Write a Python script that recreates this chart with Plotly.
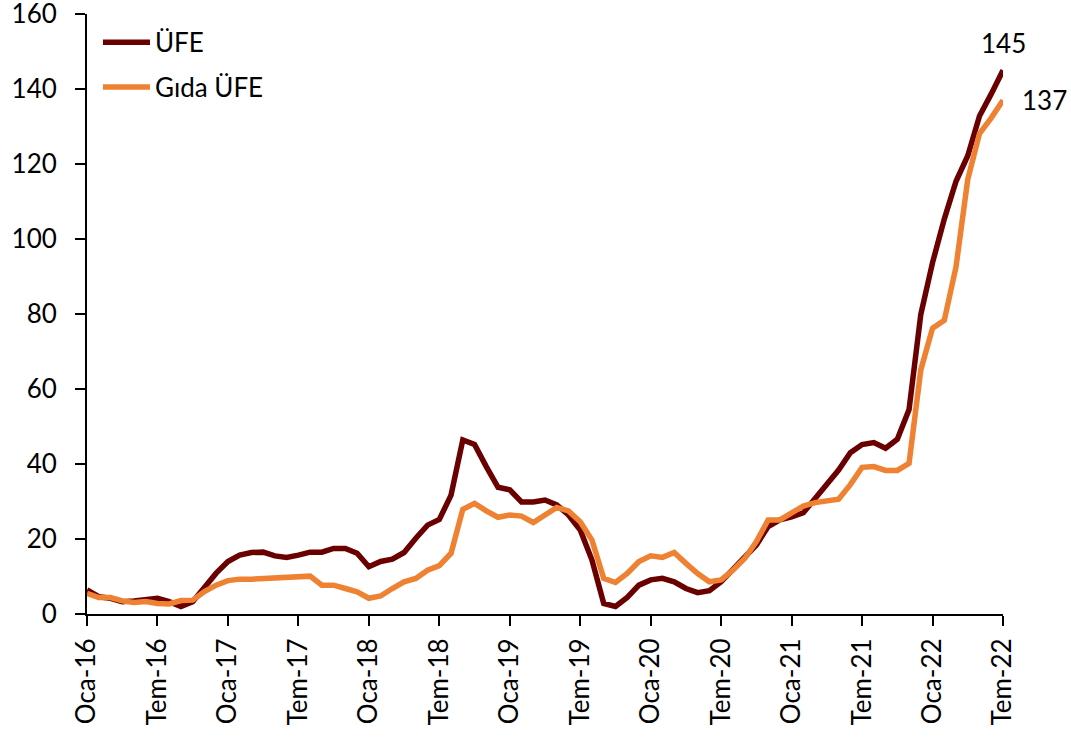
import plotly.graph_objects as go

months_tr = ["Oca", "Şub", "Mar", "Nis", "May", "Haz", "Tem", "Ağu", "Eyl", "Eki", "Kas", "Ara"]
years = [16, 17, 18, 19, 20, 21, 22]
categories = [f"{m}-{y}" for y in years for m in months_tr][:79]  # Oca-16 .. Tem-22

ufe = [6.4, 4.6, 4.2, 3.3, 3.5, 3.7, 4.2, 3.3, 2.0, 3.3,
       7.3, 10.9, 14.0, 15.7, 16.4, 16.5, 15.5, 15.1, 15.7, 16.5,
       16.5, 17.5, 17.5, 16.2, 12.6, 14.0, 14.6, 16.4, 20.2, 23.7,
       25.2, 31.7, 46.4, 45.2, 39.3, 33.8, 33.1, 29.9, 29.9, 30.4,
       29.1, 26.4, 22.4, 14.4, 2.8, 2.0, 4.4, 7.7, 9.1, 9.5,
       8.6, 6.8, 5.7, 6.2, 8.6, 11.7, 14.8, 18.4, 23.3, 25.1,
       25.9, 27.0, 30.8, 34.8, 38.4, 43.0, 45.2, 45.7, 44.2, 46.6,
       54.5, 79.9, 93.7, 105.3, 115.4, 122.2, 132.8, 138.7, 145.0]

gida_ufe = [5.5, 4.4, 4.4, 3.5, 3.1, 3.3, 2.8, 2.7, 3.6, 3.7,
            6.0, 7.7, 8.9, 9.3, 9.3, 9.5, 9.6, 9.9, 10.2, 10.1,
            7.7, 7.7, 6.8, 5.9, 4.2, 4.8, 6.8, 8.6, 9.5, 11.7,
            12.9, 16.2, 27.9, 29.5, 27.5, 25.8, 26.4, 26.1, 24.4, 26.4,
            28.4, 27.5, 24.6, 19.7, 9.5, 8.4, 10.8, 14.0, 15.5, 15.1,
            16.4, 13.5, 10.8, 8.6, 9.1, 11.7, 14.8, 19.3, 25.1, 25.1,
            26.8, 28.8, 29.7, 30.2, 30.6, 34.5, 39.1, 39.3, 38.3, 38.3,
            40.2, 65.1, 76.2, 78.3, 92.6, 115.9, 128.1, 132.3, 137.0]

tick_labels = categories[::6]
y_ticks = list(range(0, 161, 20))

FONT = "Lato"
FS = 26
DARK = "#6A0000"
ORANGE = "#EF8133"

fig = go.Figure()
fig.add_trace(go.Scatter(x=categories, y=ufe, mode="lines", name="ÜFE",
                         line=dict(color=DARK, width=5.5), legendgroup="a"))
fig.add_trace(go.Scatter(x=categories, y=gida_ufe, mode="lines", name="Gıda ÜFE",
                         line=dict(color=ORANGE, width=5.5), legendgroup="b"))

fig.add_annotation(x=categories[-1], y=ufe[-1], text=f"{ufe[-1]:.0f}", showarrow=False,
                   yshift=27, font=dict(family=FONT, size=FS, color="black"))
fig.add_annotation(x=categories[-1], y=gida_ufe[-1], text=f"{gida_ufe[-1]:.0f}", showarrow=False,
                   xanchor="left", xshift=17, font=dict(family=FONT, size=FS, color="black"))

fig.update_layout(
    template="none",
    width=1071, height=737,
    margin=dict(l=87, r=68, t=14, b=123, autoexpand=False),
    paper_bgcolor="white", plot_bgcolor="white",
    font=dict(family=FONT, size=FS, color="black"),
    showlegend=True,
    legend=dict(x=0.012, y=0.992, xanchor="left", yanchor="top",
                bgcolor="rgba(0,0,0,0)", traceorder="grouped", tracegroupgap=8,
                itemwidth=47, font=dict(family=FONT, size=FS)),
    xaxis=dict(type="category", range=[0, len(categories) - 1], automargin=False,
               tickmode="array", tickvals=tick_labels, ticktext=tick_labels,
               tickangle=-90, ticks="outside", ticklen=10, tickwidth=2, tickcolor="black",
               showline=True, linecolor="black", linewidth=2, showgrid=False, zeroline=False,
               ticklabelstandoff=2, ticklabeloverflow="allow"),
    yaxis=dict(range=[0, 160], tickmode="array", tickvals=y_ticks, automargin=False,
               ticks="outside", ticklen=10, tickwidth=2, tickcolor="black",
               showline=True, linecolor="black", linewidth=2, showgrid=False, zeroline=False,
               ticklabelstandoff=13, ticklabeloverflow="allow"),
)

fig.write_html("out.html", config={"displayModeBar": False},
               post_script="document.body.style.margin='0';")
